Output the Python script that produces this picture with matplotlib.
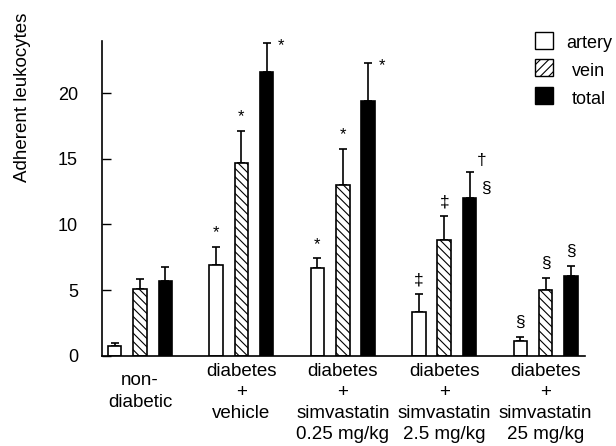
import matplotlib
matplotlib.use('Agg')
import matplotlib.pyplot as plt
from matplotlib.patches import Rectangle
import numpy as np

plt.rcParams['font.family'] = ['Liberation Sans', 'DejaVu Sans']
plt.rcParams['hatch.linewidth'] = 0.8

# ---- data ----
groups = ["non-\ndiabetic",
          "diabetes\n+\nvehicle",
          "diabetes\n+\nsimvastatin\n0.25 mg/kg",
          "diabetes\n+\nsimvastatin\n2.5 mg/kg",
          "diabetes\n+\nsimvastatin\n25 mg/kg"]
series = ["artery", "vein", "total"]
artery = [0.7, 6.9, 6.65, 3.3, 1.15]
artery_err = [0.25, 1.37, 0.76, 1.42, 0.31]
vein = [5.05, 14.7, 13.0, 8.8, 5.0]
vein_err = [0.76, 2.41, 2.74, 1.83, 0.94]
total = [5.7, 21.6, 19.42, 12.0, 6.05]
total_err = [1.02, 2.19, 2.87, 1.98, 0.78]
yticks = [0, 5, 10, 15, 20]
ylabel = "Adherent leukocytes"
# (group index, series index, symbol, placement)
annotations = [(1, 0, '*', 'above'), (1, 1, '*', 'above'), (1, 2, '*', 'right'),
               (2, 0, '*', 'above'), (2, 1, '*', 'above'), (2, 2, '*', 'right'),
               (3, 0, '\u2021', 'above'), (3, 1, '\u2021', 'above'),
               (3, 2, '\u2020', 'upright'), (3, 2, '\u00a7', 'downright'),
               (4, 0, '\u00a7', 'above'), (4, 1, '\u00a7', 'above'), (4, 2, '\u00a7', 'above')]

# ---- style ----
values = [artery, vein, total]
errors = [artery_err, vein_err, total_err]
facecolors = ['white', 'white', 'black']
hatches = [None, '\\\\\\\\', None]
offsets = [-0.25, 0.0, 0.25]
width = 0.133
placement_offsets = {'above': (0, 7), 'right': (10, -5),
                     'upright': (8.6, 5), 'downright': (11.5, -15)}
FS = 13.5

fig = plt.figure(figsize=(6.16, 4.46), dpi=100)
ax = fig.add_axes([0.165, 0.2025, 0.785, 0.7063])

x = np.arange(len(groups))
for vals, errs, fc, h, off in zip(values, errors, facecolors, hatches, offsets):
    ax.bar(x + off, vals, width, color=fc, edgecolor='black', linewidth=1.2,
           hatch=h, zorder=2)
    ax.errorbar(x + off, vals, yerr=[np.zeros(len(vals)), errs], fmt='none',
                ecolor='black', elinewidth=1.2, capsize=3, capthick=1.2, zorder=1)

for g, s, sym, place in annotations:
    top = values[s][g] + errors[s][g]
    dx, dy = placement_offsets[place]
    fs = 12 if sym == '*' else 12.5
    ax.annotate(sym, xy=(x[g] + offsets[s], top), xytext=(dx, dy),
                textcoords='offset points', ha='center', va='baseline',
                fontsize=fs)

ax.set_xlim(-0.378, 4.39)
ax.set_ylim(0, 24)
ax.set_yticks(yticks)
ax.set_xticks([])
ax.tick_params(axis='y', direction='in', length=6.7, width=1.0, pad=17,
               labelsize=13)
for side in ['top', 'right']:
    ax.spines[side].set_visible(False)
for side in ['left', 'bottom']:
    ax.spines[side].set_linewidth(1.2)

for i, lab in enumerate(groups):
    dy = -12 if i == 0 else -5
    ax.annotate(lab, xy=(x[i], 0), xycoords=('data', 'axes fraction'),
                xytext=(0, dy), textcoords='offset points', ha='center',
                va='top', fontsize=FS, linespacing=1.33)

fig.text(23 / 616, 1 - 97 / 446, ylabel, rotation=90, ha='center', va='center',
         fontsize=FS)

# legend
W, H = 616, 446
legend_hatches = [None, '////', None]
for i, (name, fc, h) in enumerate(zip(series, facecolors, legend_hatches)):
    top_px = 31.5 + 27.5 * i
    rect = Rectangle((535 / W, 1 - (top_px + 17) / H), 18 / W, 17 / H,
                     transform=fig.transFigure, facecolor=fc, edgecolor='black',
                     linewidth=1.0, hatch=h)
    fig.add_artist(rect)
    fig.text(589 / W, 1 - (top_px + 17) / H, name, ha='center', va='baseline',
             fontsize=13)

fig.savefig('out.png', dpi=100)
